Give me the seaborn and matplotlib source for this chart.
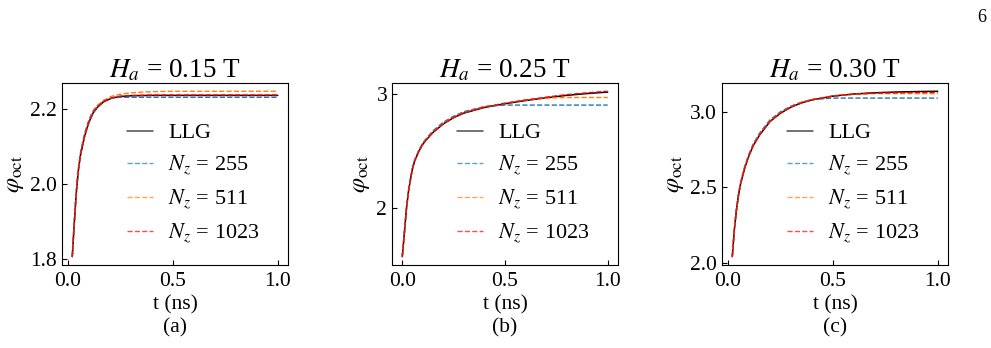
import numpy as np
import pandas as pd
import matplotlib
matplotlib.use("Agg")
import matplotlib.pyplot as plt
import seaborn as sns

# ---------------- data ----------------
titles = [r"$H_a$ = 0.15 T", r"$H_a$ = 0.25 T", r"$H_a$ = 0.30 T"]
panel_tags = ["(a)", "(b)", "(c)"]
series_labels = ["LLG", r"$N_z$ = 255", r"$N_z$ = 511", r"$N_z$ = 1023"]
x_ticks = [0.0, 0.5, 1.0]
y_ticks_a = [1.8, 2.0, 2.2]
y_ticks_b = [2, 3]
y_ticks_c = [2.0, 2.5, 3.0]

# panel (a)  H_a = 0.15 T
t_a = [0.021, 0.03, 0.04, 0.05, 0.06, 0.08, 0.10, 0.12, 0.14, 0.17, 0.21, 0.25, 0.30, 0.40, 0.50, 0.60, 0.70, 0.80, 0.90, 1.00]
llg_a = [1.806, 1.89, 1.975, 2.035, 2.076, 2.127, 2.163, 2.188, 2.203, 2.218, 2.228, 2.232, 2.234, 2.235, 2.235, 2.235, 2.235, 2.235, 2.235, 2.235]
n255_a = [1.806, 1.895, 1.982, 2.042, 2.083, 2.135, 2.170, 2.194, 2.208, 2.221, 2.228, 2.230, 2.230, 2.230, 2.230, 2.230, 2.230, 2.230, 2.230, 2.230]
n511_a = [1.806, 1.89, 1.975, 2.035, 2.076, 2.128, 2.165, 2.190, 2.206, 2.222, 2.233, 2.238, 2.242, 2.245, 2.246, 2.246, 2.246, 2.246, 2.246, 2.246]
n1023_a = [1.806, 1.89, 1.976, 2.036, 2.077, 2.128, 2.164, 2.189, 2.204, 2.219, 2.229, 2.233, 2.235, 2.236, 2.236, 2.236, 2.236, 2.236, 2.236, 2.236]

# panel (b)  H_a = 0.25 T
t_b = [0.0, 0.01, 0.02, 0.03, 0.04, 0.05, 0.06, 0.08, 0.10, 0.12, 0.15, 0.20, 0.25, 0.30, 0.40, 0.50, 0.60, 0.70, 0.80, 0.90, 1.00]
llg_b = [1.566, 1.77, 1.985, 2.14, 2.25, 2.345, 2.41, 2.495, 2.56, 2.605, 2.665, 2.74, 2.795, 2.835, 2.885, 2.918, 2.946, 2.970, 2.992, 3.008, 3.021]
n255_b = [1.566, 1.775, 1.99, 2.15, 2.26, 2.355, 2.42, 2.507, 2.572, 2.618, 2.68, 2.755, 2.808, 2.848, 2.893, 2.906, 2.906, 2.906, 2.906, 2.906, 2.906]
n511_b = [1.566, 1.77, 1.985, 2.14, 2.25, 2.345, 2.41, 2.497, 2.562, 2.608, 2.668, 2.744, 2.80, 2.84, 2.89, 2.922, 2.950, 2.968, 2.973, 2.973, 2.973]
n1023_b = [1.566, 1.77, 1.986, 2.142, 2.252, 2.347, 2.412, 2.497, 2.562, 2.607, 2.667, 2.742, 2.797, 2.838, 2.889, 2.922, 2.951, 2.976, 2.998, 3.014, 3.028]

# panel (c)  H_a = 0.30 T
t_c = [0.02, 0.03, 0.04, 0.05, 0.06, 0.08, 0.10, 0.12, 0.15, 0.20, 0.25, 0.30, 0.35, 0.40, 0.50, 0.60, 0.70, 0.80, 0.90, 1.00]
llg_c = [2.04, 2.22, 2.35, 2.45, 2.525, 2.63, 2.71, 2.775, 2.845, 2.935, 2.99, 3.03, 3.058, 3.078, 3.103, 3.117, 3.125, 3.130, 3.133, 3.135]
n255_c = [2.04, 2.225, 2.357, 2.458, 2.534, 2.642, 2.722, 2.787, 2.858, 2.946, 3.0, 3.037, 3.063, 3.080, 3.090, 3.090, 3.090, 3.090, 3.090, 3.090]
n511_c = [2.04, 2.22, 2.35, 2.45, 2.526, 2.632, 2.712, 2.777, 2.848, 2.938, 2.993, 3.033, 3.061, 3.081, 3.105, 3.116, 3.120, 3.120, 3.120, 3.120]
n1023_c = [2.04, 2.22, 2.35, 2.45, 2.525, 2.631, 2.711, 2.776, 2.846, 2.936, 2.991, 3.031, 3.059, 3.079, 3.103, 3.116, 3.122, 3.125, 3.127, 3.128]

panels = [
    (t_a, [llg_a, n255_a, n511_a, n1023_a], y_ticks_a),
    (t_b, [llg_b, n255_b, n511_b, n1023_b], y_ticks_b),
    (t_c, [llg_c, n255_c, n511_c, n1023_c], y_ticks_c),
]

# ---------------- style ----------------
sns.set_style("ticks")
plt.rcParams["font.family"] = ["Liberation Serif", "DejaVu Serif"]
plt.rcParams["mathtext.fontset"] = "stix"
plt.rcParams["xtick.direction"] = "in"
plt.rcParams["ytick.direction"] = "in"
for key in ["text.color", "axes.labelcolor", "xtick.color", "ytick.color", "axes.edgecolor"]:
    plt.rcParams[key] = "black"

colors = ["black", "#1f77b4", "#ff7f0e", "#ff0000"]
styles = ["-", "--", "--", "--"]
widths = [1.1, 1.0, 1.0, 1.0]

fig = plt.figure(figsize=(9.91, 3.48), dpi=100)
lefts = [62 / 991, 392 / 991, 722 / 991]
w = 226 / 991
bottom = 1 - 265 / 348
h = 182 / 348

for i, (t, ys, yt) in enumerate(panels):
    ax = fig.add_axes([lefts[i], bottom, w, h])
    for k, (yv, lab) in enumerate(zip(ys, series_labels)):
        df = pd.DataFrame({"t": t, "phi": yv})
        sns.lineplot(data=df, x="t", y="phi", ax=ax, color=colors[k],
                     linestyle=styles[k], linewidth=widths[k], label=lab,
                     zorder=3 if k == 3 else 2)
    ax.set_xticks(x_ticks)
    ax.set_yticks(yt)
    if i == 1:
        ax.set_yticklabels([str(v) for v in yt])
    else:
        ax.set_yticklabels([f"{v:.1f}" for v in yt])
    ax.set_xticklabels([f"{v:.1f}" for v in x_ticks])
    ax.tick_params(labelsize=15.5, length=3.5, width=0.8)
    ax.tick_params(axis="x", pad=5)
    for s in ax.spines.values():
        s.set_linewidth(0.8)
    ax.set_title(titles[i], fontsize=19.5, pad=1)
    ax.set_xlabel("t (ns)", fontsize=15.5, labelpad=3)
    ax.set_ylabel(r"$\varphi_{\rm oct}$", fontsize=17.5, labelpad=3)
    leg = ax.legend(loc="center left", bbox_to_anchor=(0.288, 0.445), frameon=False,
                    fontsize=16, handlelength=1.15, labelspacing=0.45, handletextpad=0.7,
                    borderpad=0, borderaxespad=0)
    for lh in leg.get_lines():
        lh.set_alpha(0.7)
    fig.text(lefts[i] + w / 2, 1 - 328 / 348, panel_tags[i], ha="center", va="center",
             fontsize=15.5)

fig.text(982 / 991, 1 - 17 / 348, "6", ha="center", va="center", fontsize=13)

fig.savefig("out.png", dpi=100)
